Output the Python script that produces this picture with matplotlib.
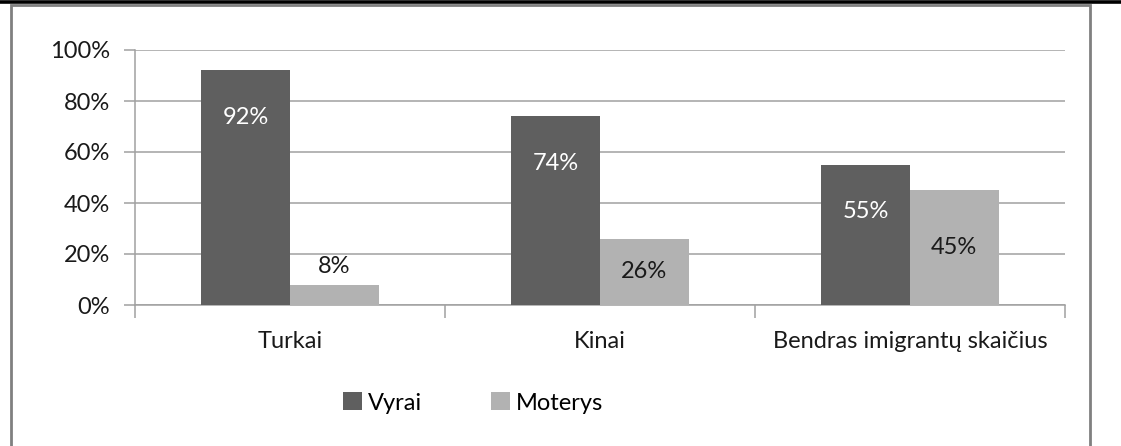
import matplotlib
matplotlib.use("Agg")
import matplotlib.pyplot as plt
from matplotlib.patches import Rectangle, Patch
from matplotlib.lines import Line2D
import numpy as np

categories = ["Turkai", "Kinai", "Bendras imigrantų skaičius"]
vyrai = [92, 74, 55]
moterys = [8, 26, 45]
series_names = ["Vyrai", "Moterys"]
yticks = [0, 20, 40, 60, 80, 100]

DARK = "#5f5f5f"
LIGHT = "#b2b2b2"
GRID = "#a0a0a0"
FONT = ["Lato", "DejaVu Sans"]
plt.rcParams["font.family"] = FONT
FS = 17

W, H = 1121, 446
fig = plt.figure(figsize=(W / 100, H / 100), dpi=100)
ax = fig.add_axes([135 / W, 1 - 305 / H, (1065 - 135) / W, (305 - 50) / H])

x = np.arange(len(categories))
bw = 1 / 3.5
ax.bar(x - bw / 2, vyrai, bw, color=DARK, zorder=3)
ax.bar(x + bw / 2, moterys, bw, color=LIGHT, zorder=3)

ax.set_xlim(-0.5, len(categories) - 0.5)
ax.set_ylim(0, 100)
ax.set_yticks(yticks)
ax.set_yticklabels([f"{v}%" for v in yticks], fontsize=FS, color="#1a1a1a")
ax.yaxis.grid(True, color=GRID, linewidth=1.1, zorder=0)
ax.tick_params(axis="y", length=8, width=1.1, color=GRID, pad=10)

ax.set_xticks(x)
ax.set_xticklabels(categories, fontsize=FS, color="#1a1a1a")
ax.set_xticks(np.arange(-0.5, len(categories)), minor=True)
ax.tick_params(axis="x", which="major", length=0, pad=19)
ax.tick_params(axis="x", which="minor", length=9, width=1.1, color=GRID)

for s in ["top", "right"]:
    ax.spines[s].set_visible(False)
for s in ["left", "bottom"]:
    ax.spines[s].set_color(GRID)
    ax.spines[s].set_linewidth(1.1)

# data labels
for i, v in enumerate(vyrai):
    ax.annotate(f"{v}%", (x[i] - bw / 2, v), xytext=(0, -34), textcoords="offset points",
                ha="center", va="center", color="white", fontsize=FS, zorder=5)
for i, v in enumerate(moterys):
    if v < 15:
        ax.annotate(f"{v}%", (x[i] + bw / 2, v), xytext=(0, 13), textcoords="offset points",
                    ha="center", va="center", color="#1a1a1a", fontsize=FS, zorder=5)
    else:
        ax.text(x[i] + bw / 2, v / 2, f"{v}%", ha="center", va="center",
                color="#1a1a1a", fontsize=FS, zorder=5)

handles = [Patch(facecolor=DARK), Patch(facecolor=LIGHT)]
fig.legend(handles, series_names, loc="center", bbox_to_anchor=(473 / W, 1 - 403 / H),
           ncol=2, frameon=False, fontsize=FS, handlelength=0.8, handleheight=0.8,
           handletextpad=0.25, columnspacing=2.9)

# outer frame and top rule
fig.patches.append(Rectangle((11 / W, -0.1), (1090 - 11) / W, 1.1 - 4.5 / H,
                             transform=fig.transFigure, fill=False,
                             edgecolor="#808080", linewidth=2))
fig.add_artist(Line2D([0, 1], [1 - 1.5 / H, 1 - 1.5 / H], transform=fig.transFigure,
                      color="black", linewidth=2.6))

fig.savefig("out.png", dpi=100)
